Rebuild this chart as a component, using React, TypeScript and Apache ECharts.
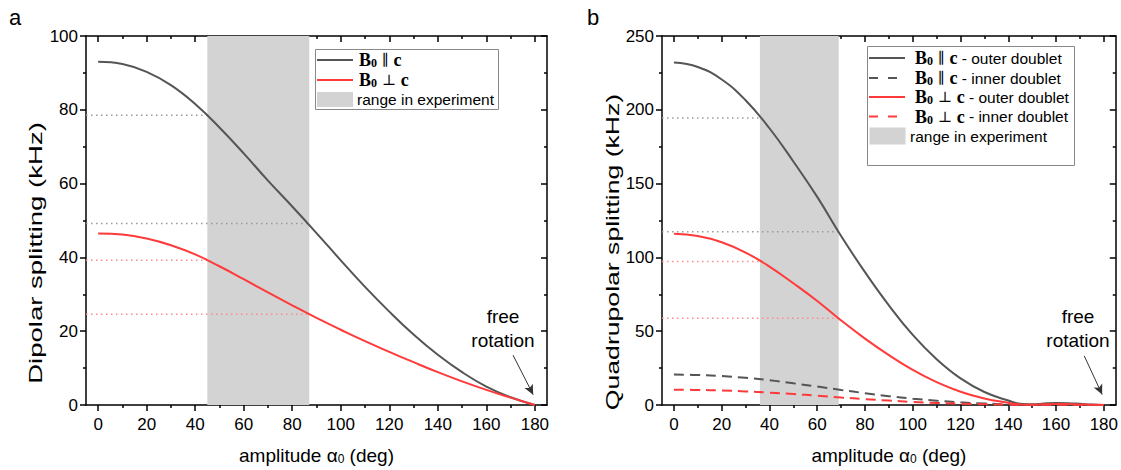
import React, { useEffect, useRef } from "react";
import * as echarts from "echarts";

// ---------- data ----------
const alphaA = [0, 10, 20, 30, 40, 50, 60, 70, 80, 90, 100, 110, 120, 130, 140, 150, 160, 170, 180];
const dipolarPar = [93.0, 92.4, 90.3, 86.7, 81.6, 75.2, 68.2, 60.8, 53.8, 46.6, 39.2, 32.0, 25.3, 19.1, 13.6, 8.9, 5.0, 2.1, 0];
const dipolarPerp = [46.5, 46.2, 45.1, 43.3, 40.8, 37.6, 34.1, 30.5, 27.0, 23.6, 20.4, 17.3, 14.4, 11.6, 8.9, 6.4, 4.1, 2.0, 0];

const alphaB = [0, 10, 20, 30, 40, 50, 60, 70, 80, 90, 100, 110, 120, 130, 140, 145, 150, 155, 160, 165, 170, 175, 180];
const quadParOuter = [232, 229, 220.5, 206.5, 187.5, 165, 141, 114.5, 90, 67.5, 47.5, 31, 18, 8.8, 3.0, 0.8, 0.4, 1.0, 1.3, 1.2, 0.8, 0.3, 0];
const quadParInner = [20.6, 20.3, 19.6, 18.4, 16.8, 14.7, 12.5, 10.2, 8.0, 6.0, 4.3, 2.9, 1.8, 1.0, 0.4, 0.2, 0.1, 0.1, 0.1, 0.1, 0.1, 0, 0];
const quadPerpOuter = [116, 114.5, 110.3, 103.3, 93.8, 82.5, 70.5, 57.3, 45, 33.8, 23.8, 15.5, 9, 4.4, 1.5, 0.4, 0.2, 0.5, 0.7, 0.6, 0.4, 0.1, 0];
const quadPerpInner = [10.3, 10.2, 9.8, 9.2, 8.4, 7.4, 6.3, 5.1, 4.0, 3.0, 2.1, 1.4, 0.9, 0.5, 0.2, 0.1, 0.1, 0.1, 0.1, 0.1, 0, 0, 0];

// experimental ranges and reference levels
const dipolarRange = [45, 87];
const dipolarParRef = [78.5, 49.2];
const dipolarPerpRef = [39.2, 24.6];
const quadRange = [36, 69];
const quadParRef = [194.5, 117.3];
const quadPerpRef = [97.3, 58.7];

// axis ticks
const xMajor = [0, 20, 40, 60, 80, 100, 120, 140, 160, 180];
const xMinor = [10, 30, 50, 70, 90, 110, 130, 150, 170];

// "free rotation" arrows (data coords: start, end)
const arrowA = [[171, 13.5], [179.3, 2.8]];
const arrowB = [[171.8, 33.3], [179.3, 7.1]];

const GRAY = "#555555";
const RED = "#ff3a3a";
const GRAY_DOT = "#9a9a9a";
const RED_DOT = "#ff8a8a";
const SHADE = "#d3d3d3";
const SANS = "Liberation Sans";

const zip = (xs: number[], ys: number[]) => xs.map((x, i) => [x, ys[i]]);

export default function App() {
  const ref = useRef<HTMLDivElement>(null);
  useEffect(() => {
    if (!ref.current) return;
    const chart = echarts.init(ref.current, undefined, { renderer: "svg" });

    const xName = "amplitude {a|α}{s|0} (deg)";
    const xNameStyle = {
      fontSize: 19,
      fontFamily: SANS,
      color: "#000",
      rich: {
        a: { fontSize: 19, fontFamily: SANS, color: "#000" },
        s: { fontSize: 12, fontFamily: SANS, color: "#000", verticalAlign: "bottom" },
      },
    };

    const xAxes: any[] = [];
    const mkX = (gridIndex: number, position: string, values: number[], length: number, inside: boolean, line: boolean, label: boolean, name?: string) => ({
      type: "value",
      gridIndex,
      position,
      min: -5,
      max: 185,
      axisLine: { show: line, onZero: false, lineStyle: { color: "#000", width: 1.5 } },
      axisTick: { show: true, inside, length, customValues: values, lineStyle: { color: "#000", width: 1.5 } },
      axisLabel: label
        ? { show: true, customValues: values, fontSize: 17, fontFamily: SANS, color: "#000", margin: 11 }
        : { show: false },
      splitLine: { show: false },
      name: name || "",
      nameLocation: "middle",
      nameGap: 41,
      nameTextStyle: xNameStyle,
    });
    for (const g of [0, 1]) {
      xAxes.push(mkX(g, "bottom", xMajor, 6, false, true, true, xName));
      xAxes.push(mkX(g, "bottom", xMinor, 3, false, false, false));
      xAxes.push(mkX(g, "top", xMajor, 6, true, true, false));
      xAxes.push(mkX(g, "top", xMinor, 3, true, false, false));
    }

    const mkY = (gridIndex: number, position: string, max: number, interval: number, inside: boolean, label: boolean) => ({
      type: "value",
      gridIndex,
      position,
      min: 0,
      max,
      interval,
      axisLine: { show: true, onZero: false, lineStyle: { color: "#000", width: 1.5 } },
      axisTick: { show: true, inside, length: 6, lineStyle: { color: "#000", width: 1.5 } },
      minorTick: { show: true, splitNumber: 2, length: 3, lineStyle: { color: "#000", width: 1.5 } },
      axisLabel: label ? { show: true, fontSize: 17, fontFamily: SANS, color: "#000", margin: 8 } : { show: false },
      splitLine: { show: false },
      minorSplitLine: { show: false },
    });
    const yAxes = [
      mkY(0, "left", 100, 20, false, true),
      mkY(0, "right", 100, 20, true, false),
      mkY(1, "left", 250, 50, false, true),
      mkY(1, "right", 250, 50, true, false),
    ];

    const line = (xi: number, yi: number, data: number[][], color: string, type: any, width: number, z = 3) => ({
      type: "line",
      xAxisIndex: xi,
      yAxisIndex: yi,
      data,
      symbol: "none",
      smooth: 0.45,
      silent: true,
      z,
      lineStyle: { color, type, width },
    });
    const dotted = (xi: number, yi: number, y: number, xEnd: number, color: string) => ({
      type: "line",
      xAxisIndex: xi,
      yAxisIndex: yi,
      data: [[-5, y], [xEnd, y]],
      symbol: "none",
      silent: true,
      z: 2,
      lineStyle: { color, type: [1.5, 3.5], width: 1.5 },
    });
    const shade = (xi: number, yi: number, range: number[]) => ({
      type: "line",
      xAxisIndex: xi,
      yAxisIndex: yi,
      data: [],
      z: 1,
      silent: true,
      markArea: {
        silent: true,
        itemStyle: { color: SHADE },
        data: [[{ xAxis: range[0] }, { xAxis: range[1] }]],
      },
    });
    const arrow = (xi: number, yi: number, a: number[][]) => ({
      type: "line",
      xAxisIndex: xi,
      yAxisIndex: yi,
      data: [],
      z: 5,
      silent: true,
      markLine: {
        silent: true,
        symbol: ["none", "arrow"],
        symbolSize: [7, 10],
        label: { show: false },
        lineStyle: { color: "#333", width: 1, type: "solid" },
        data: [[{ coord: a[0] }, { coord: a[1] }]],
      },
    });

    const series: any[] = [
      shade(0, 0, dipolarRange),
      dotted(0, 0, dipolarParRef[0], dipolarRange[0], GRAY_DOT),
      dotted(0, 0, dipolarParRef[1], dipolarRange[1], GRAY_DOT),
      dotted(0, 0, dipolarPerpRef[0], dipolarRange[0], RED_DOT),
      dotted(0, 0, dipolarPerpRef[1], dipolarRange[1], RED_DOT),
      line(0, 0, zip(alphaA, dipolarPar), GRAY, "solid", 2),
      line(0, 0, zip(alphaA, dipolarPerp), RED, "solid", 2),
      arrow(0, 0, arrowA),

      shade(4, 2, quadRange),
      dotted(4, 2, quadParRef[0], quadRange[0], GRAY_DOT),
      dotted(4, 2, quadParRef[1], quadRange[1], GRAY_DOT),
      dotted(4, 2, quadPerpRef[0], quadRange[0], RED_DOT),
      dotted(4, 2, quadPerpRef[1], quadRange[1], RED_DOT),
      line(4, 2, zip(alphaB, quadParInner), GRAY, [10, 6], 2),
      line(4, 2, zip(alphaB, quadPerpInner), RED, [10, 6], 2),
      line(4, 2, zip(alphaB, quadParOuter), GRAY, "solid", 2),
      line(4, 2, zip(alphaB, quadPerpOuter), RED, "solid", 2),
      arrow(4, 2, arrowB),
    ];

    const richLegend = {
      b: { fontFamily: "Liberation Serif", fontWeight: "bold", fontSize: 18, fill: "#000" },
      s: { fontFamily: "Liberation Serif", fontWeight: "bold", fontSize: 12, fill: "#000", verticalAlign: "bottom" },
      n: { fontFamily: "DejaVu Serif", fontSize: 15, fill: "#000" },
      t: { fontFamily: SANS, fontSize: 15.5, fill: "#000" },
    };
    const legendText = (x: number, y: number, text: string) => ({
      type: "text",
      x,
      y,
      z: 20,
      style: { text, rich: richLegend, verticalAlign: "middle", align: "left", fill: "#000", font: `15px ${SANS}` },
    });
    const legendLine = (x1: number, x2: number, y: number, color: string, dash?: number[]) => ({
      type: "line",
      z: 20,
      shape: { x1, y1: y, x2, y2: y },
      style: { stroke: color, lineWidth: 2, lineDash: dash },
    });
    const legendBox = (x: number, y: number, w: number, h: number) => ({
      type: "rect",
      z: 19,
      shape: { x, y, width: w, height: h },
      style: { fill: "#fff", stroke: "#888", lineWidth: 1 },
    });
    const legendSwatch = (x: number, y: number, w: number, h: number) => ({
      type: "rect",
      z: 20,
      shape: { x, y, width: w, height: h },
      style: { fill: SHADE },
    });
    const label = (x: number, y: number, text: string, size: number, align = "left") => ({
      type: "text",
      x,
      y,
      z: 20,
      style: { text, font: `${size}px ${SANS}`, fill: "#000", align, verticalAlign: "middle", lineHeight: 24 },
    });
    const yTitle = (x: number, y: number, text: string, stretch: number) => ({
      type: "text",
      x,
      y,
      z: 20,
      rotation: Math.PI / 2,
      scaleX: stretch,
      style: { text, font: `19px ${SANS}`, fill: "#000", align: "center", verticalAlign: "middle" },
    });

    const graphic: any[] = [
      label(9, 17, "a", 22),
      label(587, 17, "b", 22),
      yTitle(36, 253, "Dipolar splitting (kHz)", 1.45),
      yTitle(612, 252, "Quadrupolar splitting (kHz)", 1.4),
      // legend a
      legendBox(315.5, 49.5, 183, 60),
      legendLine(317, 353, 60, GRAY),
      legendText(359, 60, "{b|B}{s|0}{n| ∥ }{b|c}"),
      legendLine(317, 353, 80, RED),
      legendText(359, 80, "{b|B}{s|0}{n| ⊥ }{b|c}"),
      legendSwatch(317, 92, 36, 15),
      legendText(357, 99, "{t|range in experiment}"),
      // legend b
      legendBox(867.5, 46.5, 207, 119),
      legendLine(869, 905, 58, GRAY),
      legendText(915, 58, "{b|B}{s|0}{n| ∥ }{b|c}{t| - outer doublet}"),
      legendLine(869, 905, 78, GRAY, [9, 10]),
      legendText(915, 78, "{b|B}{s|0}{n| ∥ }{b|c}{t| - inner doublet}"),
      legendLine(869, 905, 97, RED),
      legendText(915, 97, "{b|B}{s|0}{n| ⊥ }{b|c}{t| - outer doublet}"),
      legendLine(869, 905, 116.5, RED, [9, 10]),
      legendText(915, 116.5, "{b|B}{s|0}{n| ⊥ }{b|c}{t| - inner doublet}"),
      legendSwatch(869.5, 127.5, 36, 17),
      legendText(910, 136, "{t|range in experiment}"),
      // free rotation
      label(503, 328, "free\nrotation", 19, "center"),
      label(1078, 328, "free\nrotation", 19, "center"),
    ];

    chart.setOption({
      animation: false,
      backgroundColor: "#fff",
      grid: [
        { left: 86, top: 36, width: 461, height: 372 },
        { left: 662, top: 36, width: 458, height: 372 },
      ],
      xAxis: xAxes,
      yAxis: yAxes,
      series,
      graphic,
    });
    return () => chart.dispose();
  }, []);

  return <div ref={ref} style={{ position: "absolute", left: 0, top: 0, width: 1121, height: 470 }} />;
}
